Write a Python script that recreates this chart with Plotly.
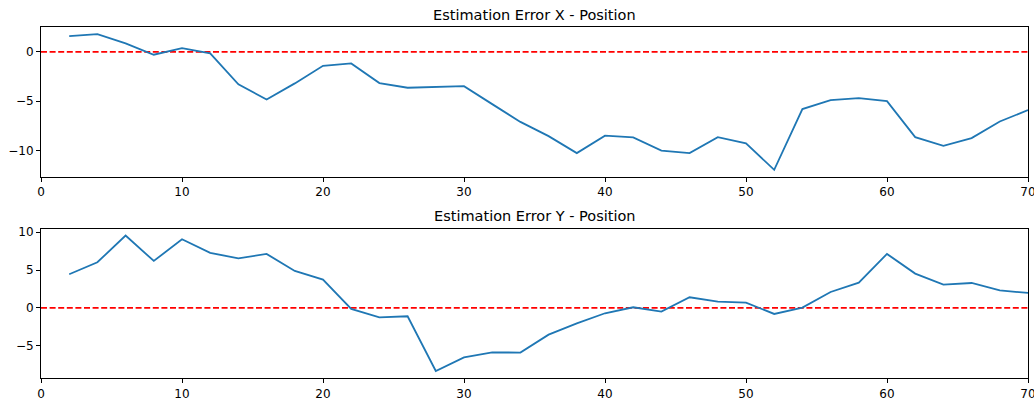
import plotly.graph_objects as go

steps = list(range(2, 71, 2))
err_x = [1.59, 1.79, 0.85, -0.3, 0.37, -0.16, -3.3, -4.83, -3.2, -1.42, -1.18, -3.17,
         -3.64, -3.58, -3.48, -5.3, -7.1, -8.54, -10.26, -8.5, -8.67, -10.0, -10.26,
         -8.64, -9.28, -11.95, -5.8, -4.9, -4.69, -5.0, -8.64, -9.52, -8.74, -7.06, -5.9]
err_y = [4.45, 6.04, 9.56, 6.21, 9.07, 7.27, 6.56, 7.14, 4.89, 3.74, -0.13, -1.23,
         -1.1, -8.33, -6.52, -5.86, -5.9, -3.52, -2.03, -0.7, 0.09, -0.48, 1.41, 0.84,
         0.7, -0.79, 0.04, 2.11, 3.35, 7.14, 4.54, 3.08, 3.3, 2.33, 1.98]
titles = ["Estimation Error X - Position", "Estimation Error Y - Position"]
x_ticks = [0, 10, 20, 30, 40, 50, 60, 70]
y_ticks_x = [-10, -5, 0]
y_ticks_y = [-5, 0, 5, 10]

W, H = 1034, 403
FONT = "DejaVu Sans"
fig = go.Figure()

def px_x(p):
    return p / W

def px_y(p):
    return 1 - p / H

panels = [
    dict(data=err_x, xa="x", ya="y", top=27.3, bot=176.7, rng=[-12.65, 2.48], ticks=y_ticks_x, title=titles[0], ty=15),
    dict(data=err_y, xa="x2", ya="y2", top=229.0, bot=378.3, rng=[-9.29, 10.43], ticks=y_ticks_y, title=titles[1], ty=216),
]

layout = dict(
    width=W, height=H,
    margin=dict(l=0, r=0, t=0, b=0, autoexpand=False),
    paper_bgcolor="white", plot_bgcolor="white",
    showlegend=False,
    font=dict(family=FONT, size=12, color="black"),
)
annotations = []
for i, p in enumerate(panels):
    fig.add_trace(go.Scatter(x=[0, 70], y=[0, 0], mode="lines", xaxis=p["xa"], yaxis=p["ya"],
                             line=dict(color="red", width=1.8, dash="6px,2.6px"), hoverinfo="skip"))
    fig.add_trace(go.Scatter(x=steps, y=p["data"], mode="lines", xaxis=p["xa"], yaxis=p["ya"],
                             line=dict(color="#1f77b4", width=1.8)))
    xkey = "xaxis" if i == 0 else "xaxis2"
    ykey = "yaxis" if i == 0 else "yaxis2"
    layout[xkey] = dict(
        domain=[px_x(41), px_x(1028)], range=[0, 70], anchor=p["ya"],
        tickvals=x_ticks, ticks="outside", ticklen=4, tickwidth=1, tickcolor="black",
        ticklabeloverflow="allow", automargin=False,
        showline=True, linecolor="black", linewidth=1, mirror=True, showgrid=False, zeroline=False,
        tickfont=dict(family=FONT, size=12, color="black"),
    )
    layout[ykey] = dict(
        domain=[px_y(p["bot"]), px_y(p["top"])], range=p["rng"], anchor=p["xa"],
        tickvals=p["ticks"], ticks="outside", ticklen=4, tickwidth=1, tickcolor="black",
        ticklabeloverflow="allow", automargin=False,
        showline=True, linecolor="black", linewidth=1, mirror=True, showgrid=False, zeroline=False,
        tickfont=dict(family=FONT, size=12, color="black"),
    )
    annotations.append(dict(text=p["title"], x=px_x(534.5), y=px_y(p["ty"]), xref="paper", yref="paper",
                            xanchor="center", yanchor="middle", showarrow=False,
                            font=dict(family=FONT, size=14.5, color="black")))
layout["annotations"] = annotations
fig.update_layout(**layout)
fig.write_html("out.html")
